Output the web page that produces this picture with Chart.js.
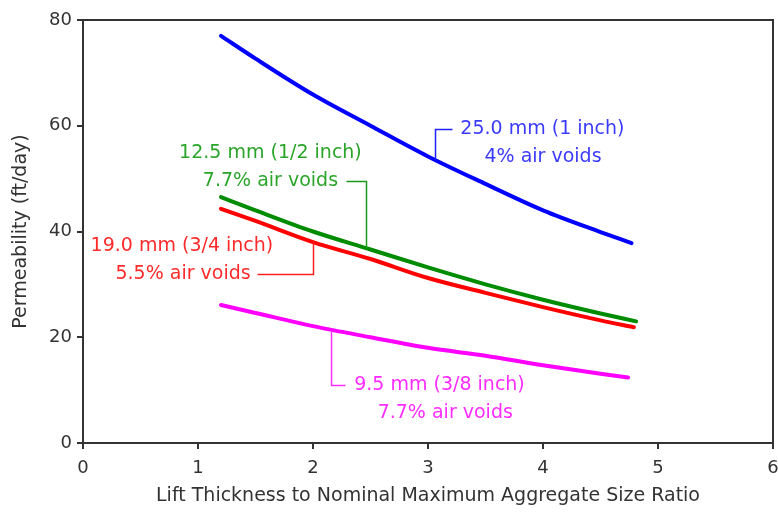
<!DOCTYPE html>
<html>
<head>
<meta charset="utf-8">
<script src="https://cdn.jsdelivr.net/npm/chart.js@4.4.1/dist/chart.umd.min.js"></script>
<style>
  html, body { margin: 0; padding: 0; background: #ffffff; }
  #wrap { width: 778px; height: 512px; }
</style>
</head>
<body>
<div id="wrap"><canvas id="c" width="778" height="512"></canvas></div>
<script>
// Lift thickness / NMAS ratio sampled along each curve
const ratioSamples = [1.2, 1.5, 2.0, 2.5, 3.0, 3.5, 4.0, 4.5];

// Permeability (ft/day) per mix; the last point is each curve's end
const mm25 = [77.0, 72.7, 65.9, 60.0, 54.2, 49.0, 44.0, 39.9, 37.8];
const mm25End = 4.77;
const mm125 = [46.5, 44.0, 40.0, 36.6, 33.2, 30.0, 27.1, 24.5, 23.0];
const mm125End = 4.81;
const mm19 = [44.3, 42.0, 38.0, 34.8, 31.2, 28.4, 25.7, 23.2, 21.9];
const mm19End = 4.79;
const mm95 = [26.1, 24.6, 22.1, 20.0, 18.0, 16.5, 14.7, 13.1, 12.4];
const mm95End = 4.74;

const xTicks = [0, 1, 2, 3, 4, 5, 6];
const yTicks = [0, 20, 40, 60, 80];

const FONT = '"DejaVu Sans", Verdana, sans-serif';

function pts(values, endX) {
  const xs = ratioSamples.concat([endX]);
  return values.map((v, i) => ({ x: xs[i], y: v }));
}

function series(label, values, endX, color) {
  return {
    label: label,
    data: pts(values, endX),
    borderColor: color,
    backgroundColor: color,
    borderWidth: 4,
    pointRadius: 0,
    cubicInterpolationMode: 'monotone',
    borderCapStyle: 'round',
    fill: false
  };
}

// Callout labels: text lines anchored in data units plus a leader polyline
const callouts = [
  { color: '#3b3bff', lineColor: '#2020ff', lines: ['25.0 mm (1 inch)', '4% air voids'],
    at: [[3.995, 59.3], [4.0, 54.0]],
    leader: [[3.21, 59.3], [3.06, 59.3], [3.06, 53.8]] },
  { color: '#2aa52a', lineColor: '#1a9a1a', lines: ['12.5 mm (1/2 inch)', '7.7% air voids'],
    at: [[1.63, 54.9], [1.63, 49.5]],
    leader: [[2.29, 49.5], [2.46, 49.5], [2.46, 36.9]] },
  { color: '#ff2a2a', lineColor: '#ff2020', lines: ['19.0 mm (3/4 inch)', '5.5% air voids'],
    at: [[0.86, 37.2], [0.87, 32.0]],
    leader: [[1.51, 32.0], [2.0, 32.0], [2.0, 38.2]] },
  { color: '#ff2cff', lineColor: '#ff30ff', lines: ['9.5 mm (3/8 inch)', '7.7% air voids'],
    at: [[3.10, 11.0], [3.15, 5.6]],
    leader: [[2.275, 11.0], [2.16, 11.0], [2.16, 21.1]] }
];

const calloutPlugin = {
  id: 'callouts',
  afterDatasetsDraw(chart) {
    const ctx = chart.ctx;
    const xs = chart.scales.x, ys = chart.scales.y;
    ctx.save();
    ctx.font = '19px ' + FONT;
    ctx.textAlign = 'center';
    ctx.textBaseline = 'middle';
    callouts.forEach(c => {
      ctx.strokeStyle = c.lineColor;
      ctx.lineWidth = 1.5;
      ctx.beginPath();
      c.leader.forEach((p, i) => {
        const px = Math.round(xs.getPixelForValue(p[0])) + 0.5;
        const py = Math.round(ys.getPixelForValue(p[1])) + 0.5;
        if (i === 0) ctx.moveTo(px, py); else ctx.lineTo(px, py);
      });
      ctx.stroke();
      ctx.fillStyle = c.color;
      c.lines.forEach((t, i) => {
        ctx.fillText(t, xs.getPixelForValue(c.at[i][0]), ys.getPixelForValue(c.at[i][1]));
      });
    });
    ctx.restore();
  }
};

// Closes the plot frame along the top and right edges
const framePlugin = {
  id: 'frame',
  afterDraw(chart) {
    const a = chart.chartArea;
    const ctx = chart.ctx;
    ctx.save();
    ctx.strokeStyle = '#333333';
    ctx.lineWidth = 2;
    ctx.beginPath();
    ctx.moveTo(a.left, a.top);
    ctx.lineTo(a.right, a.top);
    ctx.lineTo(a.right, a.bottom);
    ctx.stroke();
    ctx.restore();
  }
};

new Chart(document.getElementById('c'), {
  type: 'line',
  data: {
    datasets: [
      series('25.0 mm (1 inch), 4% air voids', mm25, mm25End, '#0000ff'),
      series('12.5 mm (1/2 inch), 7.7% air voids', mm125, mm125End, '#008c00'),
      series('19.0 mm (3/4 inch), 5.5% air voids', mm19, mm19End, '#ff0000'),
      series('9.5 mm (3/8 inch), 7.7% air voids', mm95, mm95End, '#ff00ff')
    ]
  },
  options: {
    responsive: false,
    animation: false,
    devicePixelRatio: 1,
    layout: { padding: { left: 0, right: 5, top: 20, bottom: 0 } },
    plugins: { legend: { display: false }, tooltip: { enabled: false } },
    scales: {
      x: {
        type: 'linear',
        min: 0, max: 6,
        afterBuildTicks(s) { s.ticks = xTicks.map(v => ({ value: v })); },
        afterFit(s) { s.height = 69; s.paddingRight = 0; s.paddingLeft = 0; },
        grid: { drawOnChartArea: false, drawTicks: true, tickLength: 6, color: '#333333', lineWidth: 2 },
        border: { display: true, color: '#333333', width: 2 },
        ticks: { color: '#333333', font: { family: FONT, size: 18 }, padding: 9 },
        title: { display: true, text: 'Lift Thickness to Nominal Maximum Aggregate Size Ratio',
                 color: '#333333', font: { family: FONT, size: 19 }, padding: { top: 10, bottom: 5 } }
      },
      y: {
        type: 'linear',
        min: 0, max: 80,
        afterBuildTicks(s) { s.ticks = yTicks.map(v => ({ value: v })); },
        afterFit(s) { s.width = 83; s.paddingTop = 0; s.paddingBottom = 0; },
        grid: { drawOnChartArea: false, drawTicks: true, tickLength: 6, color: '#333333', lineWidth: 2 },
        border: { display: true, color: '#333333', width: 2 },
        ticks: { color: '#333333', font: { family: FONT, size: 18 }, padding: 5 },
        title: { display: true, text: 'Permeability (ft/day)',
                 color: '#333333', font: { family: FONT, size: 19 }, padding: { top: 10, bottom: 0 } }
      }
    }
  },
  plugins: [calloutPlugin, framePlugin]
});
</script>
</body>
</html>
